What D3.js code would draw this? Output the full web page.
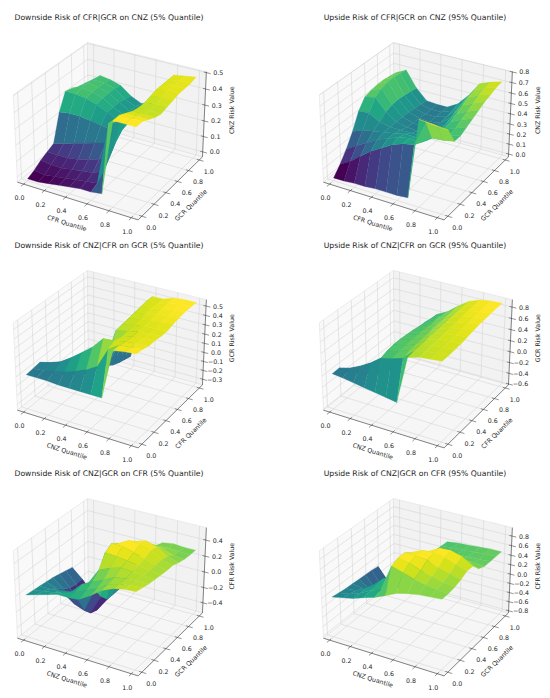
<!DOCTYPE html>
<html>
<head>
<meta charset="utf-8">
<script src="https://cdn.jsdelivr.net/npm/d3@7"></script>
<style>
  body { margin: 0; background: #fff; }
  text { font-family: "DejaVu Sans", sans-serif; fill: #262626; }
</style>
</head>
<body>
<svg id="chart" width="550" height="698"></svg>
<script>
// grid of quantiles used on both horizontal axes
var quantiles = [0, 0.1, 0.2, 0.3, 0.4, 0.5, 0.6, 0.7, 0.8, 0.9, 1.0];
var quantileTicks = [0, 0.2, 0.4, 0.6, 0.8, 1.0];

var titles = [
  "Downside Risk of CFR|GCR on CNZ (5% Quantile)",
  "Upside Risk of CFR|GCR on CNZ (95% Quantile)",
  "Downside Risk of CNZ|CFR on GCR (5% Quantile)",
  "Upside Risk of CNZ|CFR on GCR (95% Quantile)",
  "Downside Risk of CNZ|GCR on CFR (5% Quantile)",
  "Upside Risk of CNZ|GCR on CFR (95% Quantile)"
];
var xNames = ["CFR Quantile", "CFR Quantile", "CNZ Quantile", "CNZ Quantile", "CNZ Quantile", "CNZ Quantile"];
var yNames = ["GCR Quantile", "GCR Quantile", "CFR Quantile", "CFR Quantile", "GCR Quantile", "GCR Quantile"];
var zNames = ["CNZ Risk Value", "CNZ Risk Value", "GCR Risk Value", "GCR Risk Value", "CFR Risk Value", "CFR Risk Value"];

var zTicks = [
  [0, 0.1, 0.2, 0.3, 0.4, 0.5],
  [0, 0.1, 0.2, 0.3, 0.4, 0.5, 0.6, 0.7, 0.8],
  [-0.3, -0.2, -0.1, 0, 0.1, 0.2, 0.3, 0.4, 0.5],
  [-0.6, -0.4, -0.2, 0, 0.2, 0.4, 0.6, 0.8],
  [-0.4, -0.2, 0, 0.2, 0.4],
  [-0.8, -0.6, -0.4, -0.2, 0, 0.2, 0.4, 0.6, 0.8]
];
// z extent of the drawn box
var zBoxes = [
  [-0.033, 0.506],
  [-0.029, 0.803],
  [-0.364, 0.567],
  [-0.618, 0.930],
  [-0.533, 0.553],
  [-0.848, 0.973]
];

// surfaces: one row per y quantile, one value per x quantile
var surfCFRGCRdown = [
  [-0.02, -0.02, -0.01, 0.00, 0.01, 0.02, 0.02, 0.03, 0.49, 0.49, 0.49],
  [0.00, -0.01, 0.00, 0.01, 0.02, 0.03, 0.04, 0.42, 0.49, 0.49, 0.49],
  [0.03, 0.02, 0.02, 0.03, 0.04, 0.05, 0.08, 0.40, 0.47, 0.47, 0.47],
  [0.05, 0.05, 0.05, 0.06, 0.08, 0.10, 0.14, 0.38, 0.45, 0.45, 0.45],
  [0.07, 0.09, 0.11, 0.13, 0.15, 0.17, 0.20, 0.36, 0.44, 0.44, 0.44],
  [0.24, 0.25, 0.25, 0.24, 0.23, 0.22, 0.24, 0.34, 0.44, 0.45, 0.45],
  [0.34, 0.34, 0.33, 0.31, 0.28, 0.25, 0.25, 0.33, 0.45, 0.46, 0.46],
  [0.33, 0.35, 0.34, 0.32, 0.28, 0.25, 0.25, 0.33, 0.46, 0.47, 0.47],
  [0.31, 0.35, 0.34, 0.32, 0.28, 0.24, 0.25, 0.34, 0.46, 0.47, 0.47],
  [0.30, 0.34, 0.34, 0.32, 0.27, 0.24, 0.25, 0.35, 0.46, 0.47, 0.47],
  [0.29, 0.34, 0.33, 0.31, 0.26, 0.23, 0.25, 0.35, 0.46, 0.47, 0.48]
];
var surfCFRGCRup = [
  [0.00, 0.00, 0.01, 0.01, 0.02, 0.02, 0.02, 0.03, 0.79, 0.78, 0.77],
  [0.08, 0.14, 0.22, 0.30, 0.36, 0.42, 0.46, 0.48, 0.72, 0.71, 0.70],
  [0.18, 0.24, 0.30, 0.36, 0.40, 0.44, 0.46, 0.45, 0.52, 0.53, 0.55],
  [0.30, 0.34, 0.36, 0.38, 0.40, 0.42, 0.42, 0.42, 0.50, 0.52, 0.55],
  [0.45, 0.46, 0.40, 0.38, 0.38, 0.38, 0.38, 0.40, 0.50, 0.54, 0.58],
  [0.54, 0.56, 0.45, 0.38, 0.36, 0.35, 0.35, 0.40, 0.52, 0.57, 0.61],
  [0.56, 0.60, 0.47, 0.38, 0.35, 0.34, 0.35, 0.42, 0.55, 0.60, 0.64],
  [0.57, 0.62, 0.48, 0.38, 0.35, 0.34, 0.36, 0.44, 0.58, 0.63, 0.67],
  [0.57, 0.62, 0.47, 0.37, 0.34, 0.34, 0.37, 0.47, 0.61, 0.66, 0.69],
  [0.56, 0.61, 0.46, 0.36, 0.34, 0.34, 0.38, 0.49, 0.63, 0.68, 0.71],
  [0.55, 0.60, 0.45, 0.35, 0.34, 0.34, 0.40, 0.51, 0.65, 0.69, 0.72]
];
var surfCNZCFRdown = [
  [0.01, 0.01, 0.01, 0.00, 0.00, 0.00, 0.00, 0.00, 0.52, 0.54, 0.55],
  [0.02, 0.03, 0.05, 0.08, 0.12, 0.17, 0.24, 0.45, 0.52, 0.53, 0.54],
  [0.03, 0.06, 0.10, 0.175, 0.26, 0.35, 0.47, 0.48, 0.50, 0.51, 0.52],
  [-0.15, -0.12, -0.10, 0.00, 0.05, 0.10, 0.30, 0.46, 0.50, 0.51, 0.52],
  [-0.20, -0.18, -0.15, -0.05, 0.00, 0.10, 0.45, 0.47, 0.50, 0.50, 0.51],
  [-0.26, -0.24, -0.22, -0.10, -0.05, 0.12, 0.46, 0.48, 0.50, 0.50, 0.51],
  [-0.30, -0.28, -0.26, -0.15, -0.10, 0.14, 0.47, 0.49, 0.51, 0.52, 0.53],
  [-0.32, -0.30, -0.28, -0.18, -0.15, 0.16, 0.48, 0.49, 0.52, 0.53, 0.54],
  [-0.33, -0.32, -0.30, -0.20, -0.18, 0.18, 0.49, 0.50, 0.53, 0.54, 0.55],
  [-0.34, -0.33, -0.30, -0.22, -0.20, 0.20, 0.50, 0.50, 0.54, 0.55, 0.55],
  [-0.34, -0.34, -0.30, -0.24, -0.22, 0.22, 0.50, 0.50, 0.54, 0.55, 0.55]
];
var surfCNZCFRup = [
  [0.02, 0.00, -0.03, -0.06, -0.09, -0.12, -0.15, 0.68, 0.74, 0.76, 0.78],
  [0.03, 0.08, 0.17, 0.28, 0.42, 0.47, 0.53, 0.70, 0.75, 0.77, 0.78],
  [-0.15, -0.10, -0.05, 0.05, 0.46, 0.50, 0.57, 0.71, 0.76, 0.78, 0.79],
  [-0.25, -0.20, -0.15, -0.05, 0.48, 0.51, 0.58, 0.72, 0.77, 0.79, 0.80],
  [-0.35, -0.30, -0.25, -0.10, 0.48, 0.52, 0.59, 0.72, 0.78, 0.80, 0.82],
  [-0.45, -0.40, -0.30, -0.15, 0.47, 0.52, 0.60, 0.73, 0.79, 0.82, 0.84],
  [-0.50, -0.45, -0.35, -0.15, 0.46, 0.52, 0.61, 0.74, 0.80, 0.83, 0.86],
  [-0.55, -0.50, -0.35, -0.15, 0.44, 0.52, 0.62, 0.75, 0.82, 0.85, 0.87],
  [-0.57, -0.50, -0.35, -0.15, 0.43, 0.52, 0.63, 0.76, 0.83, 0.86, 0.88],
  [-0.58, -0.50, -0.35, -0.15, 0.41, 0.51, 0.64, 0.77, 0.84, 0.87, 0.89],
  [-0.59, -0.50, -0.35, -0.15, 0.40, 0.50, 0.65, 0.78, 0.85, 0.88, 0.89]
];
var surfCNZGCRdown = [
  [0.00, 0.04, 0.08, 0.12, 0.12, 0.14, 0.22, 0.32, 0.38, 0.41, 0.42],
  [-0.01, 0.02, 0.04, 0.08, 0.12, 0.18, 0.24, 0.33, 0.37, 0.39, 0.40],
  [-0.02, -0.02, 0.00, 0.02, 0.15, 0.22, 0.28, 0.35, 0.37, 0.38, 0.38],
  [-0.03, -0.08, -0.15, -0.15, 0.10, 0.30, 0.36, 0.40, 0.39, 0.38, 0.37],
  [-0.04, -0.15, -0.30, -0.35, -0.05, 0.45, 0.44, 0.42, 0.40, 0.38, 0.36],
  [-0.06, -0.20, -0.42, -0.45, -0.20, 0.50, 0.50, 0.46, 0.42, 0.38, 0.35],
  [-0.08, -0.22, -0.50, -0.48, -0.30, 0.44, 0.51, 0.50, 0.46, 0.38, 0.35],
  [-0.10, -0.22, -0.45, -0.45, -0.30, 0.34, 0.44, 0.48, 0.44, 0.36, 0.32],
  [-0.42, -0.40, -0.40, -0.40, -0.30, 0.25, 0.33, 0.38, 0.36, 0.31, 0.30],
  [-0.46, -0.44, -0.40, -0.36, -0.28, 0.15, 0.24, 0.30, 0.31, 0.30, 0.29],
  [-0.48, -0.45, -0.40, -0.34, -0.26, 0.10, 0.19, 0.28, 0.30, 0.29, 0.29]
];
var surfCNZGCRup = [
  [0.00, 0.05, 0.10, 0.18, 0.25, 0.35, 0.46, 0.52, 0.56, 0.58, 0.60],
  [-0.02, 0.02, 0.10, 0.22, 0.30, 0.84, 0.77, 0.70, 0.65, 0.62, 0.60],
  [-0.04, -0.02, 0.10, 0.25, 0.30, 0.90, 0.86, 0.77, 0.71, 0.65, 0.62],
  [-0.05, -0.08, 0.05, 0.25, 0.28, 0.90, 0.90, 0.87, 0.78, 0.72, 0.66],
  [-0.06, -0.20, -0.15, 0.15, 0.25, 0.80, 0.90, 0.91, 0.88, 0.80, 0.73],
  [-0.07, -0.35, -0.35, -0.05, 0.22, 0.61, 0.78, 0.90, 0.91, 0.85, 0.72],
  [-0.08, -0.40, -0.40, -0.15, 0.20, 0.50, 0.60, 0.74, 0.72, 0.62, 0.56],
  [-0.10, -0.38, -0.38, -0.20, 0.20, 0.45, 0.49, 0.52, 0.53, 0.52, 0.51],
  [-0.70, -0.60, -0.45, -0.25, 0.20, 0.44, 0.45, 0.47, 0.48, 0.49, 0.50],
  [-0.80, -0.70, -0.50, -0.30, 0.20, 0.43, 0.45, 0.46, 0.48, 0.50, 0.50],
  [-0.80, -0.72, -0.55, -0.30, 0.20, 0.42, 0.45, 0.46, 0.48, 0.50, 0.50]
];
var surfaces = [surfCFRGCRdown, surfCFRGCRup, surfCNZCFRdown, surfCNZCFRup, surfCNZGCRdown, surfCNZGCRup];

// ---- 3d projection, same view as matplotlib's default (elev 30, azim -60) ----
var elev = 30 * Math.PI / 180, azim = -60 * Math.PI / 180, dist = 10;
var aspect = [4, 4, 3].map(function(a) { return a * 1.8294640721620434 / Math.sqrt(41); });
var R = aspect.map(function(a) { return a / 2; });
var W3 = [Math.cos(elev) * Math.cos(azim), Math.cos(elev) * Math.sin(azim), Math.sin(elev)];
var U3 = [-W3[1], W3[0], 0];
var un = Math.hypot(U3[0], U3[1]);
U3 = [U3[0] / un, U3[1] / un, 0];
var V3 = [W3[1] * U3[2] - W3[2] * U3[1], W3[2] * U3[0] - W3[0] * U3[2], W3[0] * U3[1] - W3[1] * U3[0]];
function dot(a, b) { return a[0] * b[0] + a[1] * b[1] + a[2] * b[2]; }

var xyBox = [-0.06, 1.06];
var cx = 111.6, cy = 127.1, sx = 1210, sy = 1162;
var colX = [0, 306], rowY = [0, 228, 456];

function makeProjection(zBox) {
  var bx = d3.scaleLinear().domain(xyBox).range([0, aspect[0]]);
  var by = d3.scaleLinear().domain(xyBox).range([0, aspect[1]]);
  var bz = d3.scaleLinear().domain(zBox).range([0, aspect[2]]);
  return function(x, y, z) {
    var q = [bx(x) - R[0], by(y) - R[1], bz(z) - R[2]];
    var d = dist - dot(W3, q);
    return [cx + sx * dot(U3, q) / d, cy - sy * dot(V3, q) / d, d];
  };
}

var svg = d3.select("#chart");
var fmt = d3.format(".1f");
function tickText(v) { return fmt(v).replace("-", "\u2212"); }

titles.forEach(function(title, k) {
  var zBox = zBoxes[k];
  var P = makeProjection(zBox);
  var x0 = xyBox[0], x1 = xyBox[1], y0 = xyBox[0], y1 = xyBox[1], z0 = zBox[0], z1 = zBox[1];
  var g = svg.append("g")
    .attr("transform", "translate(" + colX[k % 2] + "," + rowY[Math.floor(k / 2)] + ")");

  function pathOf(pts) {
    return "M" + pts.map(function(p) { var s = P(p[0], p[1], p[2]); return s[0].toFixed(2) + "," + s[1].toFixed(2); }).join("L");
  }

  // panes
  var panes = [
    { pts: [[x0, y0, z0], [x0, y1, z0], [x0, y1, z1], [x0, y0, z1]], fill: "#f9f9f9" },
    { pts: [[x0, y1, z0], [x1, y1, z0], [x1, y1, z1], [x0, y1, z1]], fill: "#f2f2f2" },
    { pts: [[x0, y0, z0], [x1, y0, z0], [x1, y1, z0], [x0, y1, z0]], fill: "#f6f6f6" }
  ];
  g.selectAll("path.pane").data(panes).enter().append("path")
    .attr("class", "pane")
    .attr("d", function(d) { return pathOf(d.pts) + "Z"; })
    .attr("fill", function(d) { return d.fill; })
    .attr("stroke", "#dcdcdc")
    .attr("stroke-width", 0.5);

  // grid lines
  var grid = [];
  quantileTicks.forEach(function(t) {
    grid.push([[t, y0, z0], [t, y1, z0], [t, y1, z1]]);
    grid.push([[x1, t, z0], [x0, t, z0], [x0, t, z1]]);
  });
  zTicks[k].forEach(function(t) {
    grid.push([[x0, y0, t], [x0, y1, t], [x1, y1, t]]);
  });
  g.selectAll("path.grid").data(grid).enter().append("path")
    .attr("class", "grid")
    .attr("d", pathOf)
    .attr("fill", "none")
    .attr("stroke", "#d3d3d3")
    .attr("stroke-width", 0.55);

  // axis lines
  var axes = [
    [[x0, y0, z0], [x1, y0, z0]],
    [[x1, y0, z0], [x1, y1, z0]],
    [[x1, y1, z0], [x1, y1, z1]]
  ];
  g.selectAll("path.axis").data(axes).enter().append("path")
    .attr("class", "axis")
    .attr("d", pathOf)
    .attr("stroke", "#3a3a3a")
    .attr("stroke-width", 0.6);

  // tick marks
  var ticks = [];
  var dy = (y1 - y0) * 0.035;
  quantileTicks.forEach(function(t) {
    ticks.push([[t, y0 + dy * 0.6, z0], [t, y0 - dy, z0]]);
    ticks.push([[x1 - dy * 0.6, t, z0], [x1 + dy, t, z0]]);
  });
  zTicks[k].forEach(function(t) {
    ticks.push([[x1 - dy * 0.6, y1, t], [x1 + dy, y1, t]]);
  });
  g.selectAll("path.tick").data(ticks).enter().append("path")
    .attr("class", "tick")
    .attr("d", pathOf)
    .attr("stroke", "#3a3a3a")
    .attr("stroke-width", 0.55);

  // surface facets, painted far to near
  var Z = surfaces[k];
  var facets = [];
  for (var j = 0; j < quantiles.length - 1; j++) {
    for (var i = 0; i < quantiles.length - 1; i++) {
      var c = [[i, j], [i + 1, j], [i + 1, j + 1], [i, j + 1]];
      var pts = c.map(function(p) { return [quantiles[p[0]], quantiles[p[1]], Z[p[1]][p[0]]]; });
      var avg = d3.mean(pts, function(p) { return p[2]; });
      var depth = d3.mean(pts, function(p) { return P(p[0], p[1], p[2])[2]; });
      facets.push({ pts: pts, avg: avg, depth: depth });
    }
  }
  var color = d3.scaleSequential(d3.interpolateViridis)
    .domain(d3.extent(facets, function(f) { return f.avg; }));
  facets.sort(function(a, b) { return b.depth - a.depth; });
  g.append("g").selectAll("path").data(facets).enter().append("path")
    .attr("d", function(f) { return pathOf(f.pts) + "Z"; })
    .attr("fill", function(f) { return color(f.avg); })
    .attr("stroke", function(f) { return color(f.avg); })
    .attr("stroke-width", 0.3)
    .attr("stroke-linejoin", "round");

  // tick labels
  var fs = 6.3;
  quantileTicks.forEach(function(t) {
    var p = P(t, y0, z0);
    g.append("text").attr("x", p[0] - 4).attr("y", p[1] + 13.5)
      .attr("text-anchor", "middle").attr("dominant-baseline", "central")
      .attr("font-size", fs).text(fmt(t));
    var q = P(x1, t, z0);
    g.append("text").attr("x", q[0] + 9.4).attr("y", q[1] + 11.1)
      .attr("text-anchor", "middle").attr("dominant-baseline", "central")
      .attr("font-size", fs).text(fmt(t));
  });
  zTicks[k].forEach(function(t) {
    var p = P(x1, y1, t);
    g.append("text").attr("x", p[0] + 12).attr("y", p[1])
      .attr("text-anchor", "middle").attr("dominant-baseline", "central")
      .attr("font-size", fs).text(tickText(t));
  });

  // axis titles, turned along their axes
  function angle(a, b) {
    var p = P(a[0], a[1], a[2]), q = P(b[0], b[1], b[2]);
    return Math.atan2(q[1] - p[1], q[0] - p[0]) * 180 / Math.PI;
  }
  var mx = P(0.5, y0, z0), ax = angle([0, y0, z0], [1, y0, z0]);
  g.append("text")
    .attr("transform", "translate(" + (mx[0] - 9.3) + "," + (mx[1] + 22.4) + ")rotate(" + ax + ")")
    .attr("text-anchor", "middle").attr("dominant-baseline", "central")
    .attr("font-size", fs).text(xNames[k]);
  var my = P(x1, 0.5, z0), ay = angle([x1, 0, z0], [x1, 1, z0]);
  g.append("text")
    .attr("transform", "translate(" + (my[0] + 19) + "," + (my[1] + 18) + ")rotate(" + ay + ")")
    .attr("text-anchor", "middle").attr("dominant-baseline", "central")
    .attr("font-size", fs).text(yNames[k]);
  var mz = P(x1, y1, (z0 + z1) / 2);
  g.append("text")
    .attr("transform", "translate(" + (mz[0] + 27.3) + "," + (mz[1] - 5) + ")rotate(-90)")
    .attr("text-anchor", "middle").attr("dominant-baseline", "central")
    .attr("font-size", fs).text(zNames[k]);

  // title
  g.append("text").attr("x", 109).attr("y", 17.3)
    .attr("text-anchor", "middle").attr("dominant-baseline", "central")
    .attr("font-size", 7.7).text(title);
});
</script>
</body>
</html>
